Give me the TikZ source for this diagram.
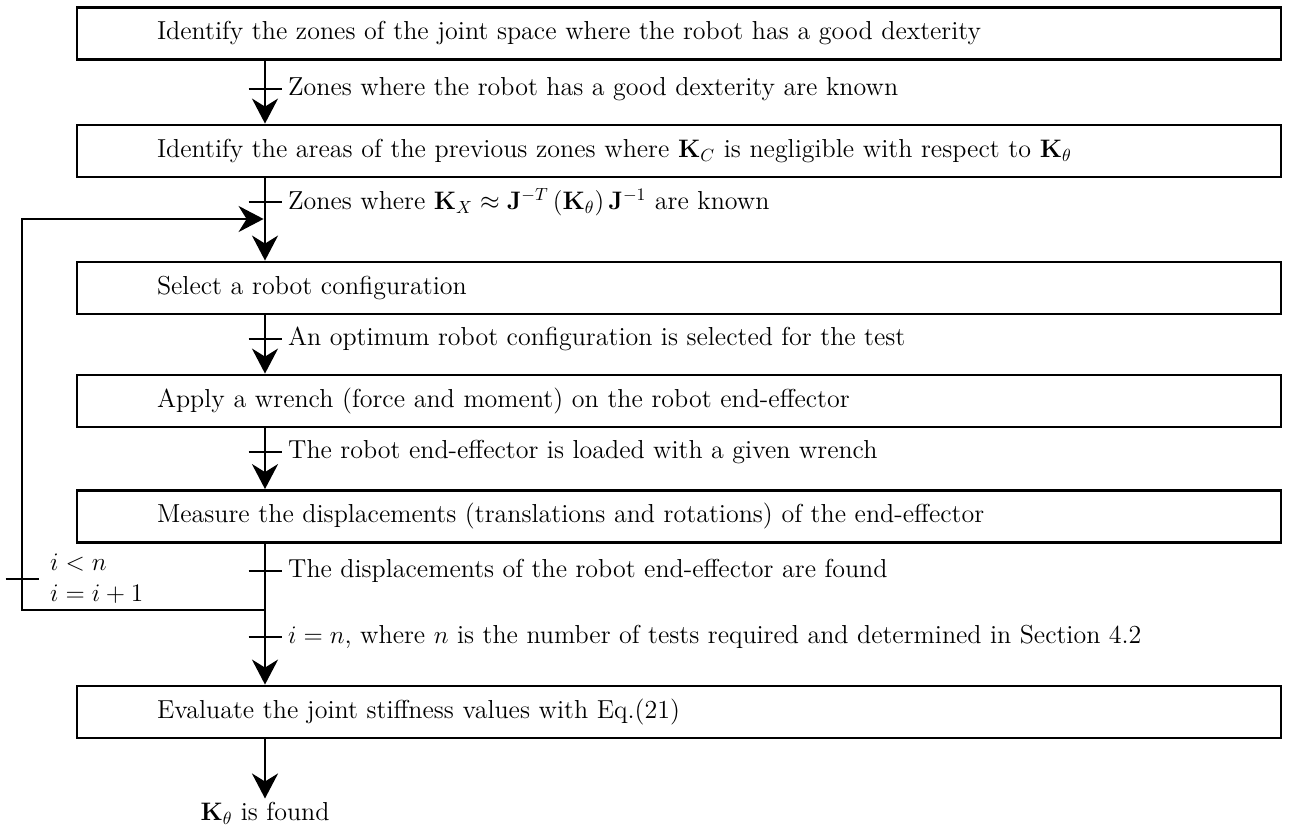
\documentclass[tikz,border=0pt]{standalone}
\usepackage{amsmath,amssymb,bm}
\usepackage{tikz}
\usetikzlibrary{arrows.meta, positioning, calc}
\tikzset{
  stepbox/.style={draw, line width=1.6pt, minimum height=1.04cm, text width=23.88cm,
                  inner xsep=0.1cm, align=left,
                  execute at begin node={\noindent\hspace*{1.5cm}}},
  arr/.style={-{Stealth[length=0.5cm, width=0.52cm, inset=0.16cm]}, line width=1.6pt},
  tick/.style={line width=1.6pt},
  cond/.style={anchor=west, inner sep=1pt},
}

\begin{document}
\begin{tikzpicture}[font=\fontsize{14.8}{17.5}\selectfont]
  \useasboundingbox (0,0) rectangle (25.96,-16.66);
  \coordinate (ax) at (5.3,0);

  % steps
  \node[stepbox] (s1) at (13.58,-0.67) {Identify the zones of the joint space where the robot has a good dexterity};
  \node[stepbox] (s2) at (13.58,-3.02) {Identify the areas of the previous zones where $\mathbf{K}_C$ is negligible with respect to $\mathbf{K}_\theta$};
  \node[stepbox] (s3) at (13.58,-5.76) {Select a robot configuration};
  \node[stepbox] (s4) at (13.58,-8.02) {Apply a wrench (force and moment) on the robot end-effector};
  \node[stepbox] (s5) at (13.58,-10.33) {Measure the displacements (translations and rotations) of the end-effector};
  \node[stepbox] (s6) at (13.58,-14.24) {Evaluate the joint stiffness values with Eq.(21)};
  \node[anchor=north, inner sep=2pt] (kf) at (5.3,-15.97) {$\mathbf{K}_\theta$ is found};

  % transitions
  \foreach \n/\y in {1/-1.78, 2/-4.04, 3/-6.78, 4/-9.04, 5/-11.42, 6/-12.74}
    \coordinate (t\n) at (5.3,\y);
  \coordinate (lp) at (5.3,-12.2);
  \coordinate (lt) at (0.44,-11.58);
  \coordinate (ret) at (5.3,-4.38);

  \draw[arr] (s1.south -| ax) -- (s2.north -| ax);
  \draw[arr] (s2.south -| ax) -- (s3.north -| ax);
  \draw[arr] (s3.south -| ax) -- (s4.north -| ax);
  \draw[arr] (s4.south -| ax) -- (s5.north -| ax);
  \draw[arr] (s5.south -| ax) -- (s6.north -| ax);
  \draw[arr] (s6.south -| ax) -- (kf.north);
  \draw[arr, shorten >=0.8pt] (lp) -- (lp -| lt) -- (ret -| lt) -- (ret);

  \foreach \n in {1,...,6}
    \draw[tick] ([xshift=-0.33cm]t\n) -- ([xshift=0.33cm]t\n);
  \draw[tick] ([xshift=-0.33cm]lt) -- ([xshift=0.33cm]lt);

  \node[cond, right=0.42cm of t1] (c1) {Zones where the robot has a good dexterity are known};
  \node[cond, right=0.42cm of t2] (c2) {Zones where $\mathbf{K}_X \approx \mathbf{J}^{-T}\left(\mathbf{K}_\theta\right)\mathbf{J}^{-1}$ are known};
  \node[cond, right=0.42cm of t3] (c3) {An optimum robot configuration is selected for the test};
  \node[cond, right=0.42cm of t4] (c4) {The robot end-effector is loaded with a given wrench};
  \node[cond, right=0.42cm of t5] (c5) {The displacements of the robot end-effector are found};
  \node[cond, right=0.42cm of t6] (c6) {$i=n$, where $n$ is the number of tests required and determined in Section 4.2};
  \node[cond, align=left, right=0.52cm of lt] (c7) {$i<n$\\$i=i+1$};
\end{tikzpicture}
\end{document}
